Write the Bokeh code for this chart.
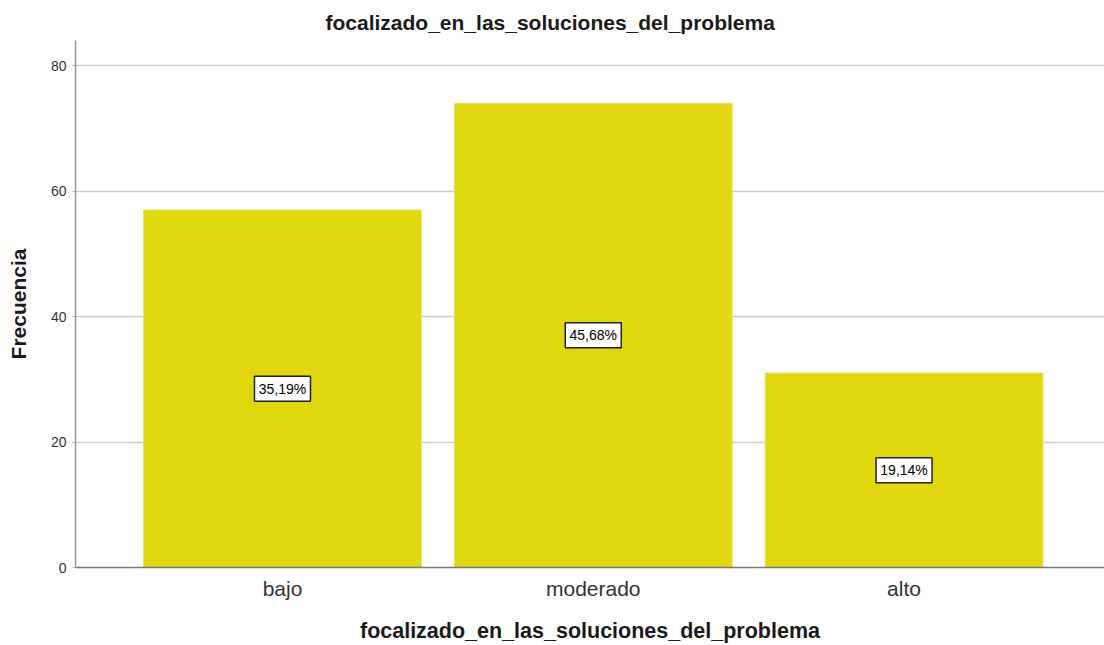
from bokeh.plotting import figure
from bokeh.models import ColumnDataSource, FixedTicker, Range1d
from bokeh.core.properties import value
from bokeh.embed import file_html
from bokeh.resources import INLINE

categories = ["bajo", "moderado", "alto"]
frecuencias = [57, 74, 31]
y_ticks = [0, 20, 40, 60, 80]

total = sum(frecuencias)
pcts = [f"{v / total * 100:.2f}%".replace(".", ",") for v in frecuencias]
xs = [i + 0.5 for i in range(len(categories))]

src = ColumnDataSource(dict(x=xs, top=frecuencias, mid=[v / 2 for v in frecuencias],
                            label=pcts, cat=categories))

FONT = "Liberation Sans"
p = figure(width=1104, height=645, output_backend="svg", toolbar_location=None,
           x_range=Range1d(-0.166, 3.145), y_range=Range1d(0, 84),
           min_border_left=75, min_border_right=0, min_border_top=40, min_border_bottom=78,
           title="focalizado_en_las_soluciones_del_problema")
p.outline_line_color = None
p.background_fill_color = "white"

p.title.align = "left"
p.title.offset = 250
p.title.standoff = 13
p.title.text_font = FONT
p.title.text_font_size = "21px"
p.title.text_font_style = "bold"
p.title.text_color = "#1a1a1a"

p.vbar(x="x", top="top", width=0.894, source=src, fill_color="#E1D70F",
       line_color="#E8E070", line_width=1)

p.rect(x="x", y="mid", width=56, height=25, width_units="screen", height_units="screen",
       source=src, fill_color="white", line_color="#222222", line_width=1.5)
p.text(x="x", y="mid", text="label", source=src, text_align="center",
       text_baseline="middle", text_font=value(FONT), text_font_size=value("14px"),
       text_color="black")

p.xaxis.ticker = FixedTicker(ticks=xs)
p.xaxis.major_label_overrides = {x: c for x, c in zip(xs, categories)}
p.xaxis.major_label_text_font = FONT
p.xaxis.major_label_text_font_size = "21px"
p.xaxis.major_label_text_color = "#333333"
p.xaxis.major_label_standoff = 9
p.xaxis.major_tick_out = 0
p.xaxis.major_tick_in = 0
p.xaxis.minor_tick_out = 0
p.xaxis.minor_tick_in = 0
p.xaxis.axis_line_color = "#777777"
p.xaxis.axis_line_width = 1.5
p.xaxis.axis_label = "focalizado_en_las_soluciones_del_problema"
p.xaxis.axis_label_text_font = FONT
p.xaxis.axis_label_text_font_size = "21.5px"
p.xaxis.axis_label_text_font_style = "bold"
p.xaxis.axis_label_text_color = "#1a1a1a"
p.xaxis.axis_label_standoff = 16

p.yaxis.ticker = FixedTicker(ticks=y_ticks)
p.yaxis.major_label_text_font = FONT
p.yaxis.major_label_text_font_size = "14px"
p.yaxis.major_label_text_color = "#333333"
p.yaxis.major_label_standoff = 6
p.yaxis.major_tick_out = 3
p.yaxis.major_tick_in = 0
p.yaxis.major_tick_line_color = "#aaaaaa"
p.yaxis.minor_tick_out = 0
p.yaxis.minor_tick_in = 0
p.yaxis.axis_line_color = "#999999"
p.yaxis.axis_line_width = 1.5
p.yaxis.axis_label = "Frecuencia"
p.yaxis.axis_label_text_font = FONT
p.yaxis.axis_label_text_font_size = "21px"
p.yaxis.axis_label_text_font_style = "bold"
p.yaxis.axis_label_text_color = "#1a1a1a"
p.yaxis.axis_label_standoff = 18

p.xgrid.grid_line_color = None
p.ygrid.ticker = FixedTicker(ticks=y_ticks)
p.ygrid.grid_line_color = "#cccccc"
p.ygrid.grid_line_width = 1.5

open("out.html", "w").write(file_html(p, INLINE))
